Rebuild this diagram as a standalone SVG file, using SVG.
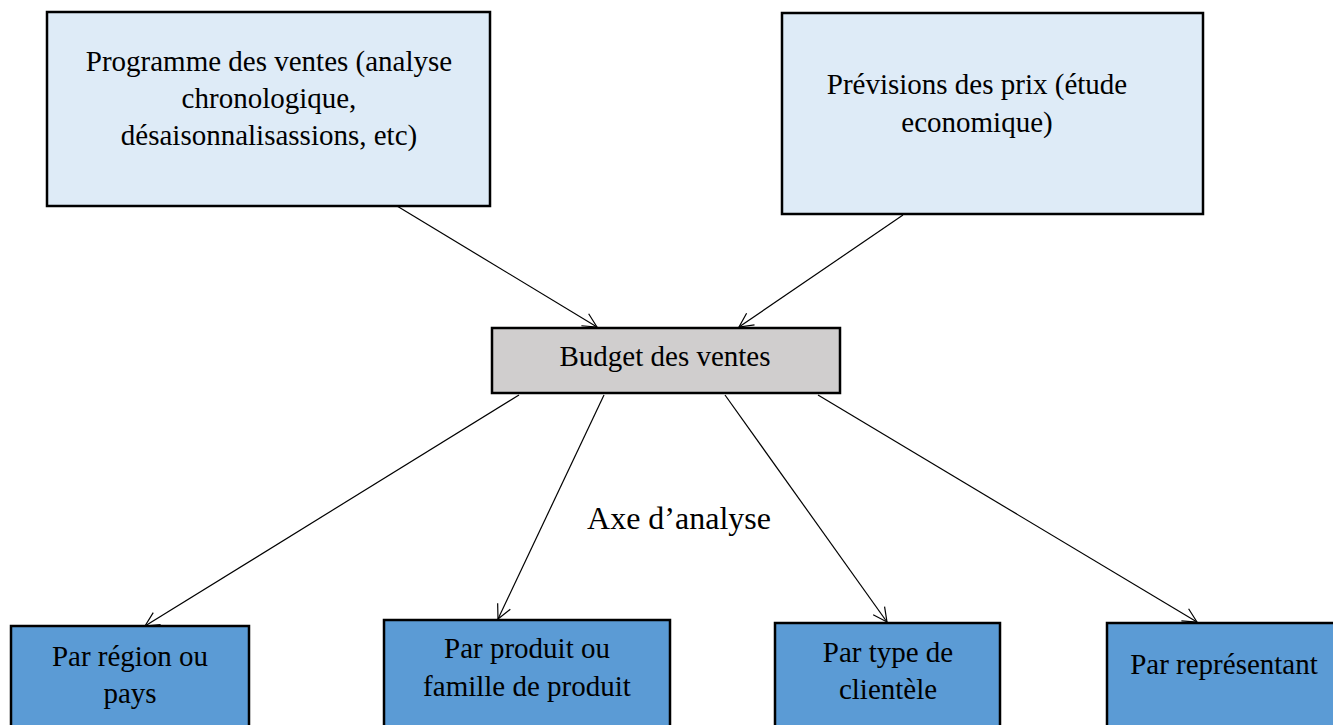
<svg xmlns="http://www.w3.org/2000/svg" width="1333" height="725" viewBox="0 0 1333 725">
<defs>
<style>
.box{stroke:#000;stroke-width:2.5}
.light{fill:#deebf7}
.gray{fill:#d0cece}
.blue{fill:#5b9bd5}
text{font-family:"Liberation Serif","Times New Roman",serif;font-size:29px;fill:#000;text-anchor:middle}
.conn line{stroke:#000;stroke-width:1.2;marker-end:url(#arr)}
</style>
<marker id="arr" markerUnits="userSpaceOnUse" markerWidth="20" markerHeight="20" refX="16" refY="8" orient="auto">
<path d="M2,1 L16,8 L2,15" fill="none" stroke="#000" stroke-width="1.2"/>
</marker>
</defs>
<rect width="1333" height="725" fill="#fff"/>
<g id="prog">
<rect class="box light" x="47" y="12" width="443" height="194"/>
<text x="269" y="71">Programme des ventes (analyse</text>
<text x="269" y="108">chronologique,</text>
<text x="269" y="145">désaisonnalisassions, etc)</text>
</g>
<g id="prix">
<rect class="box light" x="782" y="13" width="421" height="201"/>
<text x="977" y="94">Prévisions des prix (étude</text>
<text x="977" y="132">economique)</text>
</g>
<g id="budget">
<rect class="box gray" x="492" y="328" width="348" height="65"/>
<text x="665" y="366">Budget des ventes</text>
</g>
<g id="axe">
<text x="679" y="529" style="font-size:32px">Axe d’analyse</text>
</g>
<g id="region">
<rect class="box blue" x="11" y="626" width="238" height="110"/>
<text x="130" y="666">Par région ou</text>
<text x="130" y="703">pays</text>
</g>
<g id="produit">
<rect class="box blue" x="384" y="620" width="286" height="116"/>
<text x="527" y="658">Par produit ou</text>
<text x="527" y="696">famille de produit</text>
</g>
<g id="client">
<rect class="box blue" x="775" y="623" width="225" height="113"/>
<text x="888" y="662">Par type de</text>
<text x="888" y="699">clientèle</text>
</g>
<g id="repr">
<rect class="box blue" x="1107" y="623" width="236" height="113"/>
<text x="1224" y="674">Par représentant</text>
</g>
<g class="conn" id="connectors">
<line x1="397" y1="206" x2="597" y2="327"/>
<line x1="903" y1="215" x2="739" y2="327"/>
<line x1="519" y1="395" x2="145" y2="626"/>
<line x1="604" y1="395" x2="498" y2="619"/>
<line x1="725" y1="395" x2="887" y2="622"/>
<line x1="818" y1="395" x2="1197" y2="622"/>
</g>
</svg>
